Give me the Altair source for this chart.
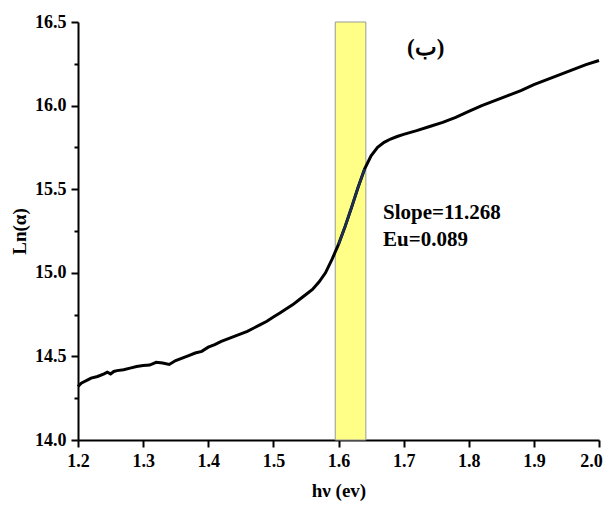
import altair as alt
import pandas as pd

# curve: photon energy (eV) vs Ln(alpha)
hv = [1.200, 1.205, 1.210, 1.215, 1.220, 1.230, 1.240, 1.245, 1.250, 1.255,
      1.260, 1.270, 1.280, 1.290, 1.300, 1.310, 1.320, 1.330, 1.340, 1.350,
      1.360, 1.370, 1.380, 1.390, 1.400, 1.410, 1.420, 1.430, 1.440, 1.450,
      1.460, 1.470, 1.480, 1.490, 1.500, 1.510, 1.520, 1.530, 1.540, 1.550,
      1.560, 1.570, 1.580, 1.590, 1.600, 1.610, 1.620, 1.630, 1.640, 1.650,
      1.660, 1.670, 1.680, 1.690, 1.700, 1.720, 1.740, 1.760, 1.780, 1.800,
      1.820, 1.840, 1.860, 1.880, 1.900, 1.920, 1.940, 1.960, 1.980, 2.000]
ln_alpha = [14.32, 14.34, 14.35, 14.36, 14.37, 14.38, 14.395, 14.405, 14.395, 14.41,
            14.415, 14.42, 14.43, 14.44, 14.445, 14.448, 14.465, 14.46, 14.452, 14.475,
            14.49, 14.505, 14.52, 14.53, 14.555, 14.57, 14.59, 14.605, 14.62, 14.635,
            14.65, 14.67, 14.69, 14.71, 14.735, 14.76, 14.785, 14.81, 14.84, 14.87,
            14.90, 14.945, 15.00, 15.08, 15.17, 15.275, 15.39, 15.51, 15.62, 15.70,
            15.75, 15.78, 15.80, 15.815, 15.828, 15.85, 15.875, 15.90, 15.93, 15.965,
            16.00, 16.03, 16.06, 16.09, 16.125, 16.155, 16.185, 16.215, 16.245, 16.27]

# highlighted fitting band
band_x = [1.595]
band_x2 = [1.642]
band_y = [14.0]
band_y2 = [16.5]

# annotations
note_text = ["Slope=11.268", "Eu=0.089"]
note_x = [1.6685, 1.6685]
note_y = [15.36, 15.195]
label_text = ["(ب)"]
label_x = [1.734]
label_y = [16.345]

x_ticks = [round(1.2 + 0.05 * i, 2) for i in range(17)]
y_ticks = [round(14.0 + 0.25 * i, 2) for i in range(11)]

curve = pd.DataFrame({"hv": hv, "ln": ln_alpha})
band = pd.DataFrame({"x": band_x, "x2": band_x2, "y": band_y, "y2": band_y2})
notes = pd.DataFrame({"t": note_text, "x": note_x, "y": note_y})
lab = pd.DataFrame({"t": label_text, "x": label_x, "y": label_y})
fit = curve[(curve.hv >= band_x[0]) & (curve.hv <= band_x2[0])]

FONT = "Liberation Serif"

xscale = alt.Scale(domain=[1.2, 2.0], nice=False, zero=False)
yscale = alt.Scale(domain=[14.0, 16.5], nice=False, zero=False)

XMAJ = "abs(datum.value*10 - round(datum.value*10)) < 0.001"
YMAJ = "abs(datum.value*2 - round(datum.value*2)) < 0.001"

xaxis = alt.Axis(
    values=x_ticks,
    labelExpr=XMAJ + " ? format(datum.value, '.1f') : ''",
    tickSize={"condition": {"test": XMAJ, "value": 7}, "value": 4},
    labelOffset={"condition": {"test": "datum.value > 1.99", "value": -8}, "value": 0},
    labelFlush=False, labelPadding=5,
    title="hν (ev)", titlePadding=11,
)
yaxis = alt.Axis(
    values=y_ticks,
    labelExpr=YMAJ + " ? format(datum.value, '.1f') : ''",
    tickSize={"condition": {"test": YMAJ, "value": 7}, "value": 4},
    labelFlush=False, labelPadding=5,
    title="Ln(α)", titlePadding=5,
)

rect = alt.Chart(band).mark_rect(fill="#FFFF88", stroke="#9a9a9a", strokeWidth=1).encode(
    x=alt.X("x:Q", scale=xscale, axis=xaxis),
    x2="x2:Q",
    y=alt.Y("y:Q", scale=yscale, axis=yaxis),
    y2="y2:Q",
)

line = alt.Chart(curve).mark_line(color="black", strokeWidth=3).encode(
    x=alt.X("hv:Q", scale=xscale),
    y=alt.Y("ln:Q", scale=yscale),
)

fitline = alt.Chart(fit).mark_line(color="#1c2e52", strokeWidth=2.6).encode(
    x=alt.X("hv:Q", scale=xscale),
    y=alt.Y("ln:Q", scale=yscale),
)

txt = alt.Chart(notes).mark_text(align="left", baseline="middle", font=FONT,
                                 fontSize=21, fontWeight="bold", color="black").encode(
    x=alt.X("x:Q", scale=xscale), y=alt.Y("y:Q", scale=yscale), text="t:N")

lbl = alt.Chart(lab).mark_text(align="center", baseline="middle", font=FONT,
                               fontSize=23, fontWeight="bold", color="black").encode(
    x=alt.X("x:Q", scale=xscale), y=alt.Y("y:Q", scale=yscale), text="t:N")

chart = alt.layer(rect, line, fitline, txt, lbl).properties(
    width=521, height=418,
    background="white",
    autosize=alt.AutoSizeParams(type="none"),
    padding={"left": 70, "top": 14, "right": 4, "bottom": 63},
).configure_view(stroke=None).configure_axis(
    grid=False,
    domainColor="black", domainWidth=2,
    tickColor="black", tickWidth=2,
    labelFont=FONT, labelFontSize=18, labelFontWeight="bold", labelColor="black",
    titleFont=FONT, titleFontSize=19, titleFontWeight="bold", titleColor="black",
)

chart.save("out.html", embed_options={"renderer": "svg", "actions": False})
